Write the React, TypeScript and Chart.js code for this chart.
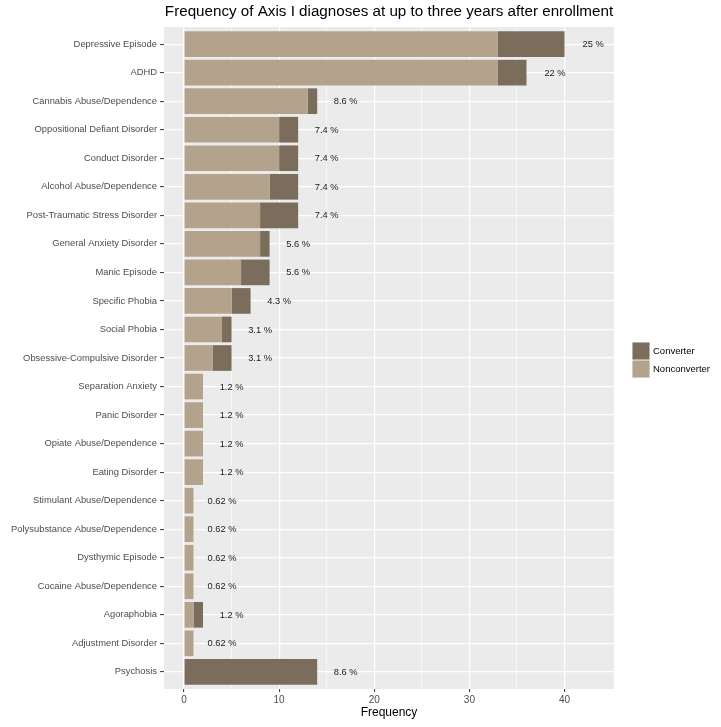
import React, { useEffect, useRef } from "react";
import { Chart, registerables } from "chart.js";

Chart.register(...registerables);

const categories = [
  "Depressive Episode",
  "ADHD",
  "Cannabis Abuse/Dependence",
  "Oppositional Defiant Disorder",
  "Conduct Disorder",
  "Alcohol Abuse/Dependence",
  "Post-Traumatic Stress Disorder",
  "General Anxiety Disorder",
  "Manic Episode",
  "Specific Phobia",
  "Social Phobia",
  "Obsessive-Compulsive Disorder",
  "Separation Anxiety",
  "Panic Disorder",
  "Opiate Abuse/Dependence",
  "Eating Disorder",
  "Stimulant Abuse/Dependence",
  "Polysubstance Abuse/Dependence",
  "Dysthymic Episode",
  "Cocaine Abuse/Dependence",
  "Agoraphobia",
  "Adjustment Disorder",
  "Psychosis",
];

const nonconverter = [33, 33, 13, 10, 10, 9, 8, 8, 6, 5, 4, 3, 2, 2, 2, 2, 1, 1, 1, 1, 1, 1, 0];
const converter = [7, 3, 1, 2, 2, 3, 4, 1, 3, 2, 1, 2, 0, 0, 0, 0, 0, 0, 0, 0, 1, 0, 14];
const percentLabels = [
  "25 %", "22 %", "8.6 %", "7.4 %", "7.4 %", "7.4 %", "7.4 %", "5.6 %", "5.6 %",
  "4.3 %", "3.1 %", "3.1 %", "1.2 %", "1.2 %", "1.2 %", "1.2 %", "0.62 %",
  "0.62 %", "0.62 %", "0.62 %", "1.2 %", "0.62 %", "8.6 %",
];
const xTicks = [0, 5, 10, 15, 20, 25, 30, 35, 40];
const xMajor = [0, 10, 20, 30, 40];

const TITLE = "Frequency of Axis I diagnoses at up to three years after enrollment";
const X_TITLE = "Frequency";
const seriesNames = ["Converter", "Nonconverter"];

const COL_NON = "#B3A38D";
const COL_CONV = "#7A6D5C";
const FONT = "'Liberation Sans', Arial, Helvetica, sans-serif";

export default function App() {
  const ref = useRef<HTMLCanvasElement | null>(null);

  useEffect(() => {
    document.body.style.margin = "0";
    const canvas = ref.current;
    if (!canvas) return;

    const decor = {
      id: "decor",
      beforeDraw(chart: any) {
        const { ctx, chartArea: a } = chart;
        ctx.save();
        ctx.fillStyle = "#EBEBEB";
        ctx.fillRect(a.left, a.top, a.right - a.left, a.bottom - a.top);
        ctx.restore();
      },
      afterDatasetsDraw(chart: any) {
        const { ctx, chartArea: a, scales } = chart;
        const xs = scales.x;
        const ys = scales.y;
        ctx.save();
        ctx.fillStyle = "#1a1a1a";
        ctx.font = `9.3px ${FONT}`;
        ctx.textAlign = "center";
        ctx.textBaseline = "middle";
        categories.forEach((_, i) => {
          const total = nonconverter[i] + converter[i];
          ctx.fillText(percentLabels[i], xs.getPixelForValue(total + 3), ys.getPixelForValue(i) + 0.5);
        });
        // title
        ctx.fillStyle = "#000";
        ctx.font = `15.2px ${FONT}`;
        ctx.fillText(TITLE, (a.left + a.right) / 2, 12);
        // x title
        ctx.font = `12px ${FONT}`;
        ctx.fillText(X_TITLE, (a.left + a.right) / 2, 713);
        // legend
        const lx = 632;
        let ly = 342;
        const cols = [COL_CONV, COL_NON];
        seriesNames.forEach((name, k) => {
          ctx.fillStyle = "#F2F2F2";
          ctx.fillRect(lx, ly, 18, 18);
          ctx.fillStyle = cols[k];
          ctx.fillRect(lx + 0.5, ly + 0.5, 17, 17);
          ctx.fillStyle = "#000";
          ctx.font = `9.5px ${FONT}`;
          ctx.textAlign = "left";
          ctx.fillText(name, lx + 21, ly + 9.5);
          ly += 18;
        });
        ctx.restore();
      },
    };

    const chart = new Chart(canvas, {
      type: "bar",
      data: {
        datasets: [
          {
            label: seriesNames[1],
            data: nonconverter.map((v, i) => ({ x: v, y: i })),
            backgroundColor: COL_NON,
            borderWidth: 0,
          },
          {
            label: seriesNames[0],
            data: converter.map((v, i) => ({ x: v, y: i })),
            backgroundColor: COL_CONV,
            borderWidth: 0,
          },
        ],
      },
      options: {
        indexAxis: "y",
        animation: false,
        responsive: true,
        maintainAspectRatio: false,
        layout: { padding: { top: 27, right: 107, left: 0, bottom: 0 } },
        datasets: { bar: { barPercentage: 0.9, categoryPercentage: 1 } },
        plugins: {
          legend: { display: false },
          title: { display: false },
          tooltip: { enabled: false },
        },
        scales: {
          x: {
            type: "linear",
            stacked: true,
            offset: false,
            min: -2.1,
            max: 45.2,
            afterBuildTicks: (s: any) => {
              s.ticks = xTicks.map((v) => ({ value: v }));
            },
            afterFit: (s: any) => {
              s.height = 38;
            },
            border: { display: false },
            grid: {
              offset: false,
              color: "#FFFFFF",
              lineWidth: (c: any) => (xMajor.includes(c.tick?.value) ? 1.2 : 0.6),
              tickColor: (c: any) => (xMajor.includes(c.tick?.value) ? "#333333" : "rgba(0,0,0,0)"),
              tickLength: 3,
              tickWidth: 1,
            },
            ticks: {
              color: "#4D4D4D",
              font: { family: FONT, size: 10 },
              padding: 2,
              maxRotation: 0,
              autoSkip: false,
              callback: (v: any) => (xMajor.includes(Number(v)) ? String(v) : ""),
            },
          },
          y: {
            type: "linear",
            stacked: true,
            reverse: true,
            offset: false,
            min: -0.6,
            max: 22.6,
            afterBuildTicks: (s: any) => {
              s.ticks = categories.map((_, i) => ({ value: i }));
            },
            afterFit: (s: any) => {
              s.width = 164;
            },
            border: { display: false },
            grid: {
              offset: false,
              color: "#FFFFFF",
              lineWidth: 1.2,
              tickColor: "#333333",
              tickLength: 4,
              tickWidth: 1,
            },
            ticks: {
              color: "#4D4D4D",
              font: { family: FONT, size: 9.4 },
              padding: 3,
              autoSkip: false,
              callback: (v: any) => categories[Number(v)] ?? "",
            },
          },
        },
      },
      plugins: [decor],
    } as any);

    return () => chart.destroy();
  }, []);

  return (
    <div style={{ position: "relative", width: 721, height: 727 }}>
      <canvas ref={ref} />
    </div>
  );
}
